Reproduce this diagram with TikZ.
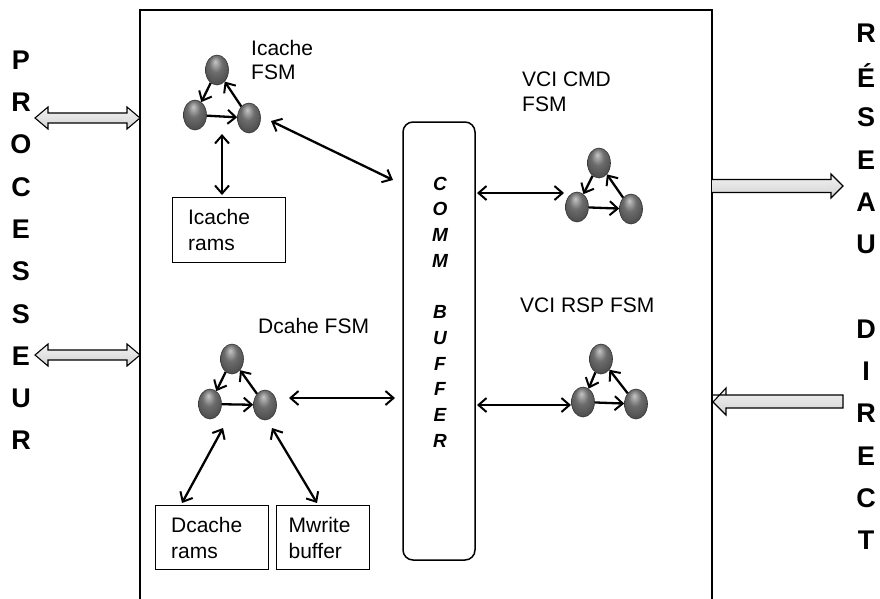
\documentclass[tikz,border=0pt]{standalone}
\usepackage{fontspec}
\setmainfont{Liberation Sans}
\usetikzlibrary{arrows.meta,shapes.geometric}
\pgfdeclareradialshading{fsmball}{\pgfpoint{-4bp}{14bp}}{color(0bp)=(gray!45); color(14bp)=(gray!85!black); color(30bp)=(black!70); color(50bp)=(black!85)}
\begin{document}
\begin{tikzpicture}[x=1pt,y=-1pt,
  ball/.style={ellipse, minimum width=23pt, minimum height=30pt, inner sep=0pt, shading=fsmball, draw=black!80, line width=0.6pt},
  arr/.style={-{Straight Barb[length=8pt,width=14pt,line width=2pt]}, line width=2.3pt},
  dbl/.style={{Straight Barb[length=8pt,width=14pt,line width=2pt]}-{Straight Barb[length=8pt,width=14pt,line width=2pt]}, line width=2.3pt},
  big/.style={font=\fontsize{27}{27}\selectfont\bfseries, inner sep=0pt},
  lbl/.style={font=\fontsize{21}{24}\selectfont, align=left, inner sep=0pt, anchor=west},
  ram/.style={draw, line width=1.2pt, anchor=north west, inner sep=0pt, align=left, font=\fontsize{21}{26}\selectfont},
  blk/.style={draw=black, top color=gray!10, bottom color=gray!35, line width=1.1pt, line join=miter}
]
\useasboundingbox (0,0) rectangle (880,598);
\clip (0,0) rectangle (880,598);
\fill[white] (0,0) rectangle (880,598);

% main box
\draw[line width=2pt] (140,10) rectangle (712,620);

% side letters
\foreach \l [count=\i from 0] in {P,R,O,C,E,S,S,E,U,R}
  \node[big] (p\i) at (21,{60+42.3*\i}) {\l};
\foreach \l [count=\i from 0] in {R,É,S,E,A,U,{},D,I,R,E,C,T}
  \node[big] (r\i) at (866,{33+42.3*\i}) {\l};

% block arrows
\draw[blk] (35,118) -- (48,107) -- (48,113) -- (127,113) -- (127,107) -- (140,118) -- (127,129) -- (127,123) -- (48,123) -- (48,129) -- cycle;
\draw[blk] (35,355) -- (48,344) -- (48,350) -- (127,350) -- (127,344) -- (140,355) -- (127,366) -- (127,360) -- (48,360) -- (48,366) -- cycle;
\draw[blk] (712,179.5) -- (831,179.5) -- (831,174) -- (843,186) -- (831,198) -- (831,192.5) -- (712,192.5);
\draw[blk] (712,395) -- (726,395) -- (726,388) -- (713,402) -- (726,415) -- (726,408) -- (843,408) -- (843,395) -- (726,395);

% COMM buffer
\node[draw, line width=1.5pt, rounded corners=10pt, minimum width=72pt, minimum height=438pt, inner sep=0pt] (comm) at (439,341) {};
\node[inner sep=0pt, align=center, font=\fontsize{19}{25.7}\selectfont\bfseries\itshape] (commtxt) at (440,312) {C\\O\\M\\M\\[25.7pt]B\\U\\F\\F\\E\\R};

% Icache FSM
\node[ball] (it) at (217,70) {};
\node[ball] (il) at (195,115) {};
\node[ball] (ir) at (249,118) {};
\draw[arr] (it) -- (il);
\draw[arr] (il) -- (ir);
\draw[arr] (ir) -- (it);
\node[lbl, anchor=north west] (ilbl) at (251,40) {Icache\\FSM};

\node[ram, minimum width=113pt, minimum height=65pt, text width=100pt] (iram) at (172,197) {\hspace*{9pt}Icache\\\hspace*{9pt}rams};
\coordinate (iramtop) at (222,195);
\coordinate (ifsmbot) at (222,134);
\draw[dbl] (iramtop) -- (ifsmbot);
\coordinate (ia1) at (271,121);
\coordinate (ia2) at (393,180);
\draw[dbl] (ia1) -- (ia2);

% VCI CMD FSM
\node[ball] (ct) at (599,163) {};
\node[ball] (cl) at (577,207) {};
\node[ball] (cr) at (631,209) {};
\draw[arr] (ct) -- (cl);
\draw[arr] (cl) -- (cr);
\draw[arr] (cr) -- (ct);
\node[lbl, anchor=north west, font=\fontsize{21}{25}\selectfont] (clbl) at (522,72) {VCI CMD\\FSM};
\coordinate (ca1) at (477,193);
\coordinate (ca2) at (564,193);
\draw[dbl] (ca1) -- (ca2);

% VCI RSP FSM
\node[ball] (rt) at (601,359) {};
\node[ball] (rl) at (583,402) {};
\node[ball] (rr) at (636,404) {};
\draw[arr] (rt) -- (rl);
\draw[arr] (rl) -- (rr);
\draw[arr] (rr) -- (rt);
\node[lbl] (rlbl) at (520,305) {VCI RSP FSM};
\coordinate (ra1) at (477,405);
\coordinate (ra2) at (571,405);
\draw[dbl] (ra1) -- (ra2);

% Dcache FSM
\node[ball] (dt) at (232,359) {};
\node[ball] (dl) at (210,404) {};
\node[ball] (dr) at (265,405) {};
\draw[arr] (dt) -- (dl);
\draw[arr] (dl) -- (dr);
\draw[arr] (dr) -- (dt);
\node[lbl] (dlbl) at (258,326) {Dcahe FSM};
\coordinate (da1) at (289,398);
\coordinate (da2) at (395,398);
\draw[dbl] (da1) -- (da2);

\node[ram, minimum width=113pt, minimum height=64pt, text width=100pt] (dram) at (155,505) {\hspace*{9pt}Dcache\\\hspace*{9pt}rams};
\node[ram, minimum width=93pt, minimum height=64pt, text width=85pt] (mwb) at (276,505) {\hspace*{8pt}Mwrite\\\hspace*{8pt}buffer};
\coordinate (dd1) at (223,428);
\coordinate (dd2) at (182,503);
\draw[dbl] (dd1) -- (dd2);
\coordinate (dm1) at (272,428);
\coordinate (dm2) at (317,503);
\draw[dbl] (dm1) -- (dm2);
\end{tikzpicture}
\end{document}
